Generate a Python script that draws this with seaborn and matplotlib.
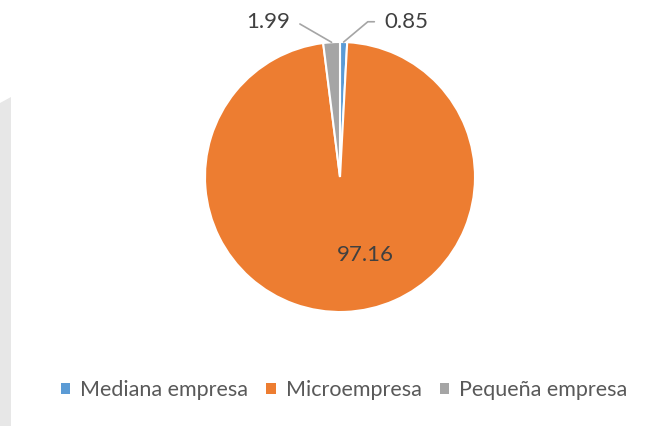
import numpy as np
import seaborn as sns
import matplotlib.pyplot as plt
from matplotlib.patches import Patch, Polygon

# data
categories = ["Mediana empresa", "Microempresa", "Pequeña empresa"]
shares = [0.85, 97.16, 1.99]
label_text = ["0.85", "97.16", "1.99"]

palette = ["#5B9BD5", "#ED7D31", "#A5A5A5"]

sns.set_theme(style="white")
plt.rcParams['font.family'] = ['Lato', 'DejaVu Sans']

fig = plt.figure(figsize=(6.53, 4.26), dpi=100)
fig.patch.set_facecolor("white")

# light grey strip on the left edge (page background)
fig.patches.append(Polygon([(0, 0), (11 / 653, 0), (11 / 653, 1 - 97 / 426), (0, 1 - 103 / 426)],
                           closed=True, transform=fig.transFigure, facecolor="#E7E7E7",
                           edgecolor="none", zorder=0))

ax = fig.add_axes([205 / 653, 114 / 426, 270 / 653, 270 / 426])
wedges, _ = ax.pie(shares, colors=palette, startangle=90, counterclock=False,
                   radius=1.0, wedgeprops=dict(edgecolor="white", linewidth=1.5))
ax.set_xlim(-1, 1)
ax.set_ylim(-1, 1)
ax.set_aspect("equal")
ax.axis("off")

# labels
lbl_size = 16
for i, w in enumerate(wedges):
    mid = np.deg2rad((w.theta1 + w.theta2) / 2)
    x, y = np.cos(mid), np.sin(mid)
    if shares[i] > 50:
        ax.text(0.19, -0.58, label_text[i], ha="center", va="center",
                fontsize=lbl_size, color="#404040")
    elif x > 0:
        ax.annotate(label_text[i], xy=(x, y), xytext=(0.33, 1.15),
                    ha="left", va="center", fontsize=lbl_size, color="#404040",
                    arrowprops=dict(arrowstyle="-", color="#A5A5A5", lw=1.2,
                                    connectionstyle="angle,angleA=0,angleB=40",
                                    relpos=(0, 0.5), shrinkA=5, shrinkB=0))
    else:
        ax.annotate(label_text[i], xy=(x, y), xytext=(-0.37, 1.15),
                    ha="right", va="center", fontsize=lbl_size, color="#404040",
                    arrowprops=dict(arrowstyle="-", color="#A5A5A5", lw=1.2,
                                    connectionstyle="angle,angleA=0,angleB=150",
                                    relpos=(1, 0.5), shrinkA=5, shrinkB=0))

handles = [Patch(facecolor=c, edgecolor="none") for c in palette]
fig.legend(handles, categories, loc="center", bbox_to_anchor=(344 / 653, 1 - 390 / 426),
           ncol=3, frameon=False, fontsize=15.5, labelcolor="#595959",
           handlelength=0.45, handleheight=0.45, handletextpad=0.45, columnspacing=0.85)

fig.savefig("out.png", dpi=100, facecolor="white")
